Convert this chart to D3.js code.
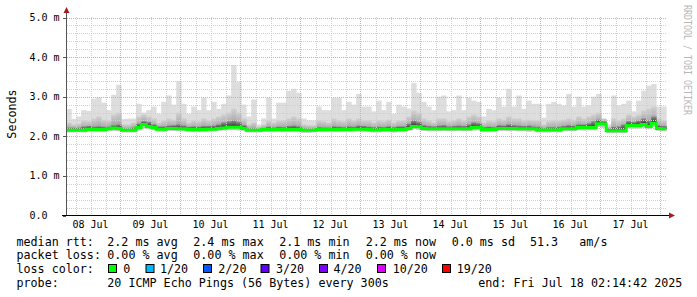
<!DOCTYPE html>
<html lang="en">
  <head>
    <meta charset="UTF-8" />
    <title>smokeping</title>
    <style>
      * {
        margin: 0;
        padding: 0;
      }
      body {
        background: #fff;
      }
      text {
        font-family: 'DejaVu Sans Mono', monospace;
        font-size: 11.7px;
        white-space: pre;
      }
      .axis {
        font-size: 10px;
      }
    </style>
  </head>
  <body>
    <script src="https://cdn.jsdelivr.net/npm/d3@7"></script>
    <script>
      // 2 hour buckets, 08 Jul 02:14:42 -> 18 Jul 02:14:42 (ms)
      const start = Date.UTC(2025, 6, 8, 2, 14, 42)
      const end = Date.UTC(2025, 6, 18, 2, 14, 42)
      const step = 2 * 3600 * 1000

      const maxRtt = [
        2.69, 2.44, 2.5, 2.66, 2.64, 2.95, 2.98, 2.85, 2.66, 3.05, 3.3, 2.44, 2.45, 2.45, 2.82, 2.6, 2.66, 2.75, 2.57, 2.87, 3.03, 2.8, 3.4, 2.82, 2.57, 2.75, 2.66, 2.97, 2.66, 2.87,
        2.69, 2.82, 3.03, 3.8, 3.37, 2.8, 2.5, 2.93, 2.3, 2.45, 2.98, 2.45, 2.85, 2.85, 3.15, 3.2, 3.1, 2.45, 2.4, 2.4, 2.75, 2.66, 2.66, 2.97, 2.97, 2.66, 2.87, 2.8, 3.07, 2.75,
        2.75, 2.63, 2.9, 2.66, 2.87, 2.57, 2.8, 2.75, 2.7, 3.35, 3.1, 2.87, 2.75, 2.66, 3.0, 3.03, 2.63, 2.66, 3.03, 2.66, 2.97, 2.9, 2.87, 2.5, 2.69, 2.66, 2.98, 2.75, 3.2, 2.75,
        3.03, 2.69, 2.9, 2.82, 2.82, 2.47, 2.82, 2.87, 2.82, 2.78, 3.07, 2.75, 3.0, 2.75, 2.78, 3.0, 3.07, 2.44, 2.3, 3.03, 2.78, 2.82, 2.9, 2.63, 2.9, 3.15, 3.28, 3.32, 2.75, 2.75
      ]
      const hiRtt = [
        2.35, 2.3, 2.32, 2.4, 2.38, 2.45, 2.5, 2.42, 2.4, 2.55, 2.6, 2.3, 2.3, 2.35, 2.5, 2.55, 2.5, 2.45, 2.35, 2.4, 2.45, 2.42, 2.6, 2.45, 2.35, 2.4, 2.38, 2.45, 2.4, 2.45,
        2.5, 2.55, 2.6, 2.7, 2.6, 2.45, 2.3, 2.35, 2.25, 2.3, 2.4, 2.35, 2.4, 2.4, 2.45, 2.5, 2.45, 2.3, 2.28, 2.28, 2.4, 2.38, 2.35, 2.45, 2.4, 2.38, 2.45, 2.4, 2.45, 2.4,
        2.4, 2.35, 2.4, 2.38, 2.42, 2.35, 2.4, 2.4, 2.5, 2.65, 2.6, 2.45, 2.4, 2.35, 2.45, 2.45, 2.38, 2.4, 2.45, 2.4, 2.5, 2.55, 2.5, 2.35, 2.4, 2.38, 2.45, 2.42, 2.5, 2.45,
        2.45, 2.4, 2.42, 2.4, 2.4, 2.3, 2.38, 2.4, 2.4, 2.42, 2.45, 2.42, 2.5, 2.45, 2.5, 2.55, 2.6, 2.45, 2.25, 2.45, 2.4, 2.45, 2.55, 2.5, 2.55, 2.65, 2.7, 2.75, 2.45, 2.4
      ]
      const darkRtt = [
        2.22, 2.22, 2.22, 2.25, 2.26, 2.24, 2.25, 2.24, 2.24, 2.28, 2.3, 2.2, 2.2, 2.22, 2.32, 2.38, 2.36, 2.3, 2.25, 2.25, 2.27, 2.28, 2.3, 2.27, 2.24, 2.25, 2.24, 2.26, 2.26, 2.27,
        2.3, 2.35, 2.38, 2.4, 2.36, 2.28, 2.2, 2.2, 2.19, 2.21, 2.24, 2.22, 2.24, 2.23, 2.26, 2.27, 2.25, 2.2, 2.18, 2.19, 2.23, 2.22, 2.22, 2.25, 2.24, 2.23, 2.25, 2.24, 2.27, 2.26,
        2.24, 2.23, 2.24, 2.23, 2.25, 2.23, 2.25, 2.25, 2.32, 2.4, 2.36, 2.28, 2.26, 2.25, 2.27, 2.28, 2.25, 2.26, 2.27, 2.26, 2.3, 2.35, 2.33, 2.23, 2.24, 2.23, 2.28, 2.27, 2.3, 2.28,
        2.27, 2.26, 2.27, 2.25, 2.24, 2.2, 2.23, 2.23, 2.24, 2.26, 2.28, 2.27, 2.3, 2.3, 2.33, 2.38, 2.42, 2.38, 2.2, 2.24, 2.25, 2.3, 2.38, 2.36, 2.4, 2.45, 2.4, 2.5, 2.28, 2.26
      ]
      const medianRtt = [
        2.15, 2.15, 2.15, 2.15, 2.18, 2.17, 2.17, 2.17, 2.19, 2.21, 2.2, 2.15, 2.15, 2.15, 2.22, 2.3, 2.25, 2.22, 2.18, 2.18, 2.2, 2.2, 2.19, 2.19, 2.17, 2.17, 2.17, 2.17, 2.18, 2.18,
        2.2, 2.21, 2.23, 2.23, 2.23, 2.2, 2.15, 2.15, 2.15, 2.17, 2.17, 2.17, 2.17, 2.17, 2.17, 2.17, 2.17, 2.15, 2.15, 2.15, 2.17, 2.17, 2.17, 2.17, 2.17, 2.17, 2.17, 2.18, 2.18, 2.18,
        2.17, 2.16, 2.16, 2.17, 2.17, 2.16, 2.17, 2.17, 2.2, 2.25, 2.24, 2.2, 2.19, 2.19, 2.19, 2.19, 2.19, 2.19, 2.19, 2.19, 2.19, 2.22, 2.23, 2.17, 2.17, 2.17, 2.2, 2.2, 2.2, 2.2,
        2.19, 2.19, 2.19, 2.19, 2.16, 2.16, 2.16, 2.16, 2.16, 2.19, 2.19, 2.19, 2.22, 2.22, 2.22, 2.22, 2.32, 2.31, 2.14, 2.14, 2.14, 2.14, 2.27, 2.27, 2.27, 2.3, 2.25, 2.33, 2.2, 2.19
      ]
      const minRtt = [
        2.1, 2.1, 2.11, 2.1, 2.12, 2.12, 2.11, 2.12, 2.13, 2.14, 2.13, 2.1, 2.1, 2.1, 2.15, 2.2, 2.18, 2.16, 2.12, 2.12, 2.14, 2.14, 2.13, 2.13, 2.12, 2.11, 2.11, 2.12, 2.12, 2.13,
        2.14, 2.15, 2.16, 2.16, 2.15, 2.14, 2.1, 2.1, 2.1, 2.11, 2.11, 2.11, 2.12, 2.11, 2.11, 2.12, 2.11, 2.09, 2.09, 2.1, 2.11, 2.11, 2.12, 2.11, 2.11, 2.12, 2.12, 2.12, 2.13, 2.12,
        2.11, 2.1, 2.1, 2.11, 2.12, 2.1, 2.11, 2.12, 2.14, 2.18, 2.17, 2.14, 2.13, 2.13, 2.13, 2.14, 2.13, 2.13, 2.14, 2.13, 2.13, 2.15, 2.16, 2.11, 2.11, 2.12, 2.14, 2.14, 2.13, 2.14,
        2.13, 2.13, 2.12, 2.13, 2.1, 2.1, 2.1, 2.11, 2.1, 2.13, 2.13, 2.13, 2.16, 2.15, 2.16, 2.16, 2.24, 2.22, 2.08, 2.08, 2.09, 2.08, 2.2, 2.2, 2.2, 2.22, 2.18, 2.25, 2.14, 2.13
      ]

      const yTicks = [0, 1, 2, 3, 4, 5]
      const lossLabels = ['0', '1/20', '2/20', '3/20', '4/20', '10/20', '19/20']
      const lossColors = ['#00ff00', '#00b8ff', '#0059ff', '#5e00ff', '#7e00ff', '#dd00ff', '#ff0000']
      const rttStats = ['2.2 ms avg', '2.4 ms max', '2.1 ms min', '2.2 ms now', '0.0 ms sd', '51.3', 'am/s']
      const lossStats = ['0.00 % avg', '0.00 % max', '0.00 % min', '0.00 % now']

      const W = 697
      const H = 297

      const svg = d3
        .select('body')
        .append('svg')
        .attr('width', W)
        .attr('height', H)

      // vertical gradients for the smoke, darker towards the median
      const defs = svg.append('defs')
      const addGrad = (id, stops) => {
        const g = defs
          .append('linearGradient')
          .attr('id', id)
          .attr('x1', 0)
          .attr('x2', 0)
          .attr('y1', 1)
          .attr('y2', 0)
        stops.forEach((s) => g.append('stop').attr('offset', s[0]).attr('stop-color', s[1]))
      }
      addGrad('mid', [[0, '#8e8e8e'], [0.4, '#b0b0b0'], [1, '#d0d0d0']])
      addGrad('dense', [[0, '#262626'], [0.5, '#5e5e5e'], [1, '#8e8e8e']])

      const x = d3.scaleUtc().domain([start, end]).range([66.2, 666.2])
      const y = d3.scaleLinear().domain([0, 5]).range([215.5, 17.5])

      const rows = medianRtt.map((m, i) => ({
        t0: start + i * step,
        t1: start + (i + 1) * step,
        max: maxRtt[i],
        hi: hiRtt[i],
        dk: darkRtt[i],
        med: m,
        min: minRtt[i]
      }))

      // smoke, one rect per bucket and band
      const bands = [
        { lo: 'min', top: 'max', color: '#dddddd' },
        { lo: 'min', top: 'med', color: '#c4c4c4' },
        { lo: 'med', top: 'hi', color: 'url(#mid)' },
        { lo: 'med', top: 'dk', color: 'url(#dense)' }
      ]
      const smoke = svg.append('g')
      bands.forEach((b) => {
        smoke
          .append('g')
          .attr('fill', b.color)
          .selectAll('rect')
          .data(rows)
          .join('rect')
          .attr('x', (d) => x(d.t0))
          .attr('width', (d) => x(d.t1) - x(d.t0) + 0.4)
          .attr('y', (d) => y(d[b.top]))
          .attr('height', (d) => y(d[b.lo]) - y(d[b.top]))
      })

      // grid
      const grid = svg.append('g').attr('stroke-dasharray', '1,1').attr('stroke-width', 1)
      const minorY = d3.range(0, 5.01, 0.2).filter((v) => Math.abs(v - Math.round(v)) > 0.01)
      grid
        .selectAll('.hy')
        .data(minorY)
        .join('line')
        .attr('x1', 67)
        .attr('x2', 666)
        .attr('y1', (d) => Math.round(y(d)) + 0.5)
        .attr('y2', (d) => Math.round(y(d)) + 0.5)
        .attr('stroke', '#cfcfcf')
      const hours = x.ticks(d3.utcHour.every(6)).filter((t) => t.getUTCHours() !== 0)
      grid
        .selectAll('.vx')
        .data(hours)
        .join('line')
        .attr('x1', (d) => Math.round(x(d)) + 0.5)
        .attr('x2', (d) => Math.round(x(d)) + 0.5)
        .attr('y1', 17)
        .attr('y2', 215)
        .attr('stroke', '#cfcfcf')
      grid
        .selectAll('.my')
        .data(yTicks.slice(1))
        .join('line')
        .attr('x1', 67)
        .attr('x2', 666)
        .attr('y1', (d) => Math.round(y(d)) + 0.5)
        .attr('y2', (d) => Math.round(y(d)) + 0.5)
        .attr('stroke', '#e9a3a3')
      const days = x.ticks(d3.utcDay.every(1))
      grid
        .selectAll('.mx')
        .data(days)
        .join('line')
        .attr('x1', (d) => Math.round(x(d)) - 0.5)
        .attr('x2', (d) => Math.round(x(d)) - 0.5)
        .attr('y1', 17)
        .attr('y2', 215)
        .attr('stroke', '#e9a3a3')

      // median, coloured by loss (all 0 here)
      const line = d3
        .line()
        .x((d) => x(d.t))
        .y((d) => y(d.v))
        .curve(d3.curveStepAfter)
      const medPts = rows.map((d) => ({ t: d.t0, v: d.med }))
      medPts.push({ t: end, v: medianRtt[medianRtt.length - 1] })
      svg
        .append('path')
        .datum(medPts)
        .attr('d', line)
        .attr('fill', 'none')
        .attr('stroke', lossColors[0])
        .attr('stroke-width', 3)

      // axes
      svg
        .append('line')
        .attr('x1', 66.5)
        .attr('x2', 66.5)
        .attr('y1', 216)
        .attr('y2', 10)
        .attr('stroke', '#555')
      svg
        .append('path')
        .attr('d', 'M63.5,13 L69.5,13 L66.5,7 Z')
        .attr('fill', '#a02020')
      svg
        .append('line')
        .attr('x1', 62)
        .attr('x2', 671)
        .attr('y1', 215.5)
        .attr('y2', 215.5)
        .attr('stroke', '#000')
      svg
        .append('path')
        .attr('d', 'M669,212.5 L669,218.5 L675,215.5 Z')
        .attr('fill', '#a02020')
      svg
        .selectAll('.ytick')
        .data(yTicks)
        .join('line')
        .attr('x1', 63)
        .attr('x2', 66)
        .attr('y1', (d) => Math.round(y(d)) + 0.5)
        .attr('y2', (d) => Math.round(y(d)) + 0.5)
        .attr('stroke', '#555')

      svg
        .selectAll('.ylab')
        .data(yTicks)
        .join('text')
        .attr('class', 'axis')
        .attr('x', 29.5)
        .attr('y', (d) => y(d) + 3.5)
        .text((d) => (d === 0 ? '0.0' : d.toFixed(1) + ' m'))

      const fmt = d3.utcFormat('%d %b')
      svg
        .selectAll('.xlab')
        .data(days.map((d) => d3.utcHour.offset(d, -12)).filter((d) => x(d) > 66))
        .join('text')
        .attr('class', 'axis')
        .attr('x', (d) => x(d))
        .attr('y', 228)
        .attr('text-anchor', 'middle')
        .text(fmt)

      svg
        .append('text')
        .attr('transform', 'translate(15.5,114) rotate(-90)')
        .attr('text-anchor', 'middle')
        .text('Seconds')

      svg
        .append('text')
        .attr('transform', 'translate(684,5) rotate(90)')
        .attr('textLength', 110)
        .attr('lengthAdjust', 'spacingAndGlyphs')
        .style('font-size', '10px')
        .attr('fill', '#b8b8b8')
        .text('RRDTOOL / TOBI OETIKER')

      // legend
      const rttX = [107.3, 193.3, 279.2, 365.7, 451.7, 530, 579.3]
      const leg = svg.append('g')
      leg.append('text').attr('x', 16.5).attr('y', 245.5).text('median rtt:')
      rttStats.forEach((s, i) => leg.append('text').attr('x', rttX[i]).attr('y', 245.5).text(s))
      leg.append('text').attr('x', 16.5).attr('y', 259).text('packet loss:')
      lossStats.forEach((s, i) => leg.append('text').attr('x', rttX[i]).attr('y', 259).text(s))
      leg.append('text').attr('x', 16.5).attr('y', 273).text('loss color:')
      const swX = [108.5, 146, 203.5, 261, 319.5, 377.5, 442.5]
      const labX = [123.3, 160, 218.3, 276, 333.5, 392.7, 456.7]
      lossLabels.forEach((l, i) => {
        leg
          .append('rect')
          .attr('x', swX[i])
          .attr('y', 264.5)
          .attr('width', 8)
          .attr('height', 8)
          .attr('fill', lossColors[i])
          .attr('stroke', '#000')
        leg.append('text').attr('x', labX[i]).attr('y', 273).text(l)
      })
      leg.append('text').attr('x', 16.5).attr('y', 286.5).text('probe:')
      leg.append('text').attr('x', 107.3).attr('y', 286.5).text('20 ICMP Echo Pings (56 Bytes) every 300s')
      leg.append('text').attr('x', 478.3).attr('y', 286.5).text('end: Fri Jul 18 02:14:42 2025')
    </script>
  </body>
</html>
